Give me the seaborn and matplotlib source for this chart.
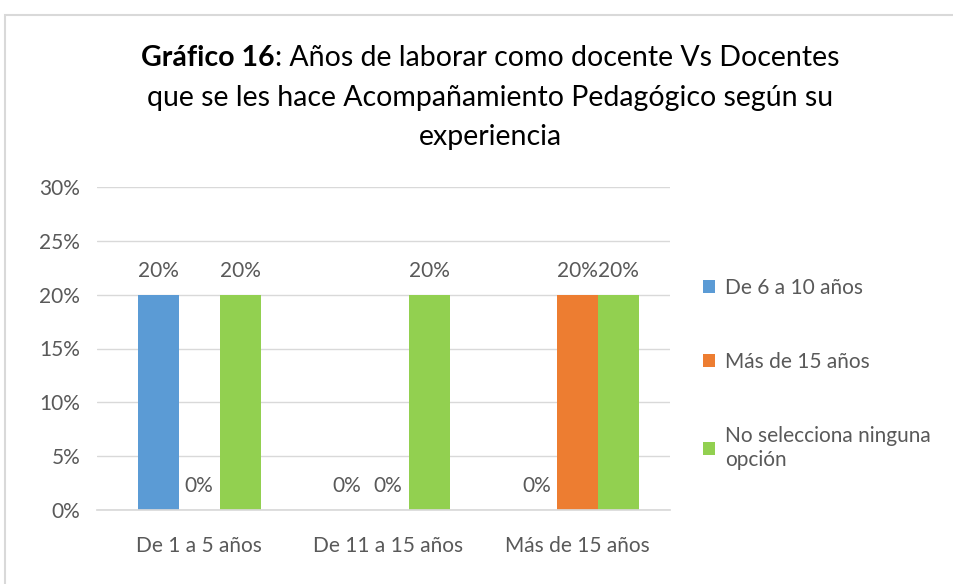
import pandas as pd
import matplotlib
matplotlib.use('Agg')
import matplotlib.pyplot as plt
import seaborn as sns
from matplotlib.patches import Rectangle

# Data
categorias = ['De 1 a 5 años', 'De 11 a 15 años', 'Más de 15 años']
series = ['De 6 a 10 años', 'Más de 15 años', 'No selecciona ninguna\nopción']
valores = {
    'De 6 a 10 años': [0.20, 0.00, 0.00],
    'Más de 15 años': [0.00, 0.00, 0.20],
    'No selecciona ninguna\nopción': [0.20, 0.20, 0.20],
}
colores = ['#5B9BD5', '#ED7D31', '#92D050']
yticks = [0, 0.05, 0.10, 0.15, 0.20, 0.25, 0.30]

rows = []
for s in series:
    for c, v in zip(categorias, valores[s]):
        rows.append({'categoria': c, 'serie': s, 'valor': v})
df = pd.DataFrame(rows)

sns.set_theme(style="white")
plt.rcParams['font.family'] = ['Lato', 'DejaVu Sans']
gris = '#595959'
fs = 15

fig = plt.figure(figsize=(9.54, 5.84), dpi=100)
ax = fig.add_axes([97 / 954, 1 - 510 / 584, 573 / 954, 323 / 584])

sns.barplot(data=df, x='categoria', y='valor', hue='serie', hue_order=series,
            order=categorias, palette=colores, width=0.651, gap=0,
            saturation=1, linewidth=0, ax=ax)

for cont in ax.containers:
    ax.bar_label(cont, labels=[f"{v * 100:.0f}%" for v in cont.datavalues],
                 padding=10, fontsize=fs, color=gris)

ax.set_xlim(-0.54, 2.49)
ax.set_ylim(0, 0.30)
ax.set_yticks(yticks)
ax.set_yticklabels([f"{t * 100:.0f}%" for t in yticks])
ax.yaxis.grid(True, color='#D9D9D9', linewidth=1)
ax.set_axisbelow(True)
for sp in ['top', 'right', 'left']:
    ax.spines[sp].set_visible(False)
ax.spines['bottom'].set_color('#D9D9D9')
ax.tick_params(axis='y', length=0, pad=12, labelsize=fs, labelcolor=gris)
ax.tick_params(axis='x', length=0, pad=19, labelsize=fs, labelcolor=gris)
ax.set_xlabel('')
ax.set_ylabel('')

# Legend
handles, labels = ax.get_legend_handles_labels()
ax.legend(handles, labels, loc='upper left', bbox_to_anchor=(703 / 954, 1 - 278 / 584),
          bbox_transform=fig.transFigure, frameon=False, fontsize=fs,
          labelcolor=gris, handlelength=0.6, handleheight=0.6, handletextpad=0.45,
          labelspacing=2.6, borderaxespad=0, borderpad=0)

# Title: bold part + regular part on first line
fig.canvas.draw()
r = fig.canvas.get_renderer()
ts = 20.5
cx = 490 / 954
t_b = fig.text(0, 1 - 58 / 584, 'Gráfico 16', fontsize=ts, fontweight='bold',
               va='center', ha='left', color='black')
t_r = fig.text(0, 1 - 58 / 584, ': Años de laborar como docente Vs Docentes',
               fontsize=ts, va='center', ha='left', color='black')
wb = t_b.get_window_extent(r).width
wr = t_r.get_window_extent(r).width
x0 = cx * 954 - (wb + wr) / 2
t_b.set_x(x0 / 954)
t_r.set_x((x0 + wb) / 954)
fig.text(cx, 1 - 98 / 584, 'que se les hace Acompañamiento Pedagógico según su',
         fontsize=ts, va='center', ha='center', color='black')
fig.text(cx, 1 - 137 / 584, 'experiencia', fontsize=ts, va='center', ha='center', color='black')

# Chart border
fig.patches.append(Rectangle((5 / 954, -0.1), 1.2, 1.1 - 15 / 584, transform=fig.transFigure,
                             fill=False, edgecolor='#D9D9D9', linewidth=1.5))

fig.savefig('out.png', dpi=100)
